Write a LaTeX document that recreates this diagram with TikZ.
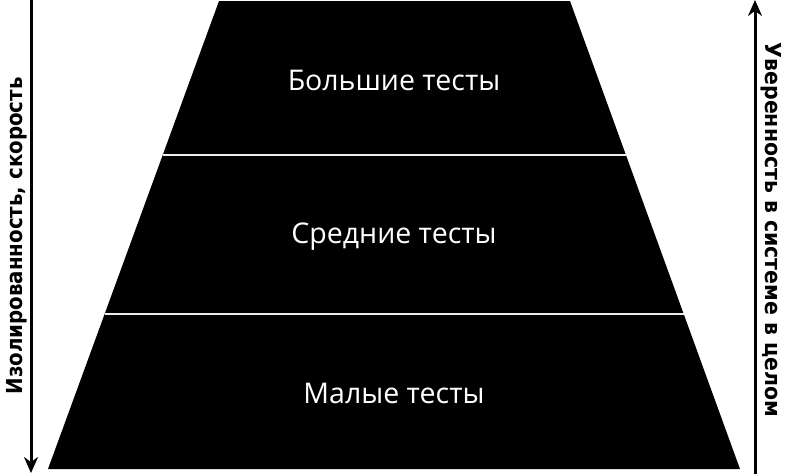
\documentclass[tikz,border=0pt]{standalone}
\usepackage{fontspec}
\setmainfont{Open Sans}
\newfontfamily\sidefont{DejaVu Sans}
\usetikzlibrary{calc,arrows.meta}

\tikzset{
  layer/.style={text=white,font=\fontsize{28.5}{31}\selectfont},
  axis/.style={line width=3pt,-{Stealth[length=16pt,width=14pt]}},
  axislabel/.style={font=\sidefont\bfseries\fontsize{22}{24}\selectfont,inner sep=0pt}
}

\begin{document}
\begin{tikzpicture}[x=1pt,y=-1pt]
    \useasboundingbox (0,0) rectangle (788,474);
    % pyramid corners
    \coordinate (tl) at (219,1);
    \coordinate (tr) at (570,1);
    \coordinate (br) at (740,469);
    \coordinate (bl) at (48,469);
    \fill[black] (tl) -- (tr) -- (br) -- (bl) -- cycle;
    % dividing lines
    \draw[gray!15,line width=2.5pt] ($(tl)!0.329!(bl)$) -- ($(tr)!0.329!(br)$);
    \draw[gray!15,line width=2.5pt] ($(tl)!0.669!(bl)$) -- ($(tr)!0.669!(br)$);
    \node[layer] (big) at (394,80) {Большие тесты};
    \node[layer] (mid) at (394,237) {Средние тесты};
    \node[layer] (small) at (394,393) {Малые тесты};
    % side arrows
    \coordinate (ltop) at (31,0);
    \coordinate (lbot) at (31,473);
    \coordinate (rbot) at (755,474);
    \coordinate (rtop) at (755,0);
    \draw[axis] (ltop) -- (lbot);
    \draw[axis] (rbot) -- (rtop);
    \node[axislabel,rotate=90] (speed) at (17,236)
        {\scalebox{0.9}[1]{Изолированность, скорость}};
    \node[axislabel,rotate=-90] (trust) at (771,230)
        {\scalebox{0.93}[1]{Уверенность в системе в целом}};
\end{tikzpicture}
\end{document}
